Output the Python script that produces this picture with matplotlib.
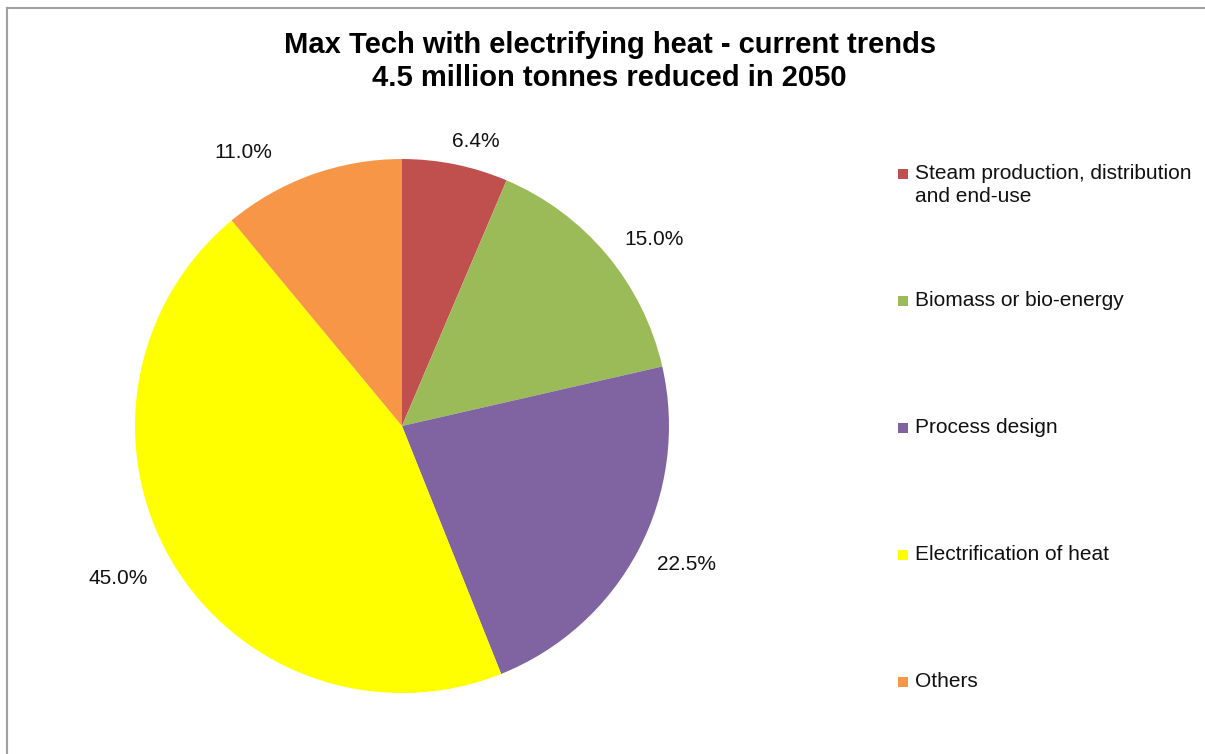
import numpy as np
import matplotlib.pyplot as plt
from matplotlib.lines import Line2D
from matplotlib.patches import Rectangle

plt.rcParams['font.family'] = ['Liberation Sans', 'DejaVu Sans']

labels = ['Steam production, distribution\nand end-use', 'Biomass or bio-energy',
          'Process design', 'Electrification of heat', 'Others']
shares = [6.4, 15.0, 22.5, 45.0, 11.0]
colors = ['#C0504D', '#9BBB59', '#8064A2', '#FFFF00', '#F79646']
# radial distance and angular nudge (deg) of each percentage label
label_dist = [1.10, 1.175, 1.185, 1.205, 1.185]
label_shift = [-3.1, -3.4, 1.6, -2.5, 10.2]

fig = plt.figure(figsize=(12.05, 7.54), dpi=100)
ax = fig.add_axes([0.112, 0.0809, 0.4432, 0.7082])

wedges, _ = ax.pie(shares, colors=colors, startangle=90, counterclock=False,
                   wedgeprops=dict(linewidth=0))
ax.set_xlim(-1, 1)
ax.set_ylim(-1, 1)
ax.set_aspect('equal')

# percentage labels outside each slice
for w, s, d, sh in zip(wedges, shares, label_dist, label_shift):
    ang = np.radians((w.theta1 + w.theta2) / 2 + sh)
    ax.text(d * np.cos(ang), d * np.sin(ang), '%.1f%%' % s,
            ha='center', va='center', fontsize=15, color='#111111')

fig.text(0.506, 0.9185, 'Max Tech with electrifying heat - current trends\n4.5 million tonnes reduced in 2050',
         ha='center', va='center', fontsize=21, fontweight='bold', linespacing=1.25)

# legend drawn by hand so the marker sits on the first text line
W, H = 1205, 754
for i, (lab, c) in enumerate(zip(labels, colors)):
    y = 174 + 127 * i
    fig.patches.append(Rectangle((898 / W, 1 - (y + 5) / H), 10 / W, 10 / H,
                                 transform=fig.transFigure, facecolor=c, edgecolor='none'))
    fig.text(915 / W, 1 - (y - 10) / H, lab, ha='left', va='top', fontsize=15,
             color='#111111', linespacing=1.3)

# chart area border (left and top edges)
fig.add_artist(Line2D([7.5 / W, 7.5 / W], [0, 1 - 8 / H], transform=fig.transFigure,
                      color='#A0A0A0', linewidth=1.5))
fig.add_artist(Line2D([7.5 / W, 1], [1 - 8 / H, 1 - 8 / H], transform=fig.transFigure,
                      color='#A0A0A0', linewidth=1.5))

fig.savefig('out.png', dpi=100, facecolor='white')
